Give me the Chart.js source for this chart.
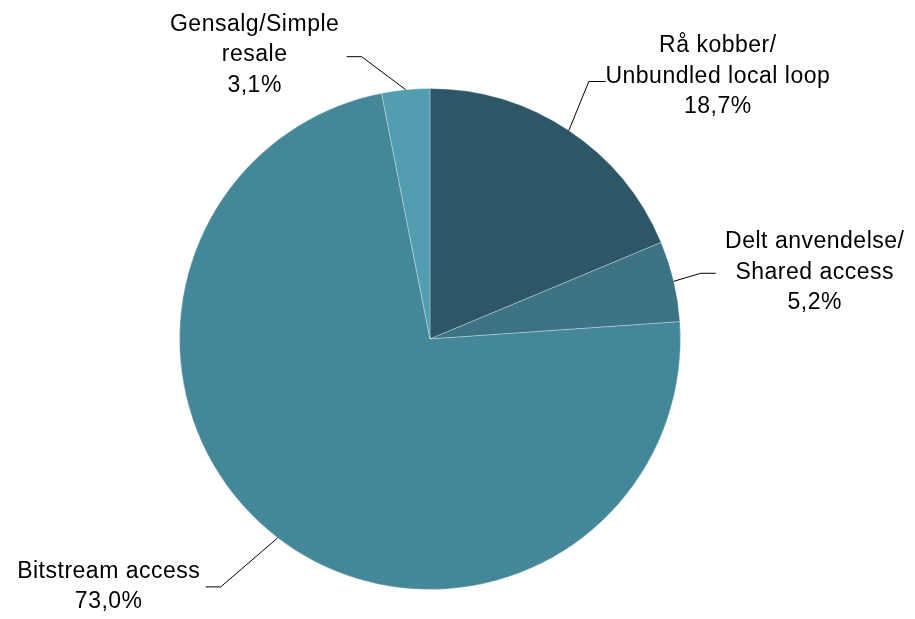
<!DOCTYPE html>
<html>
<head>
<meta charset="utf-8">
<script src="https://cdn.jsdelivr.net/npm/chart.js@4.4.0/dist/chart.umd.min.js"></script>
<style>
    html, body { margin: 0; padding: 0; background: #ffffff; }
    #wrap { width: 915px; height: 619px; position: relative; }
</style>
</head>
<body>
<div id="wrap"><canvas id="pieChart"></canvas></div>
<script>
// Data
const categories = [
    ['Rå kobber/', 'Unbundled local loop'],
    ['Delt anvendelse/', 'Shared access'],
    ['Bitstream access'],
    ['Gensalg/Simple', 'resale']
];
const shares = [18.7, 5.2, 73.0, 3.1];
const sliceColors = ['#2d5766', '#3d7485', '#448799', '#529db0'];

// Placement of leader lines and label blocks (offsets from the arc mid point)
const labelPlacement = [
    { elbow: [20, -49], tail: 17, text: [112, -5] },
    { elbow: [27, -8], tail: 15, text: [99, -1] },
    { elbow: [-57, 49], tail: -15, text: [-97, 0] },
    { elbow: [-44, -33], tail: -15, text: [-92, -2] }
];

const fmt = v => v.toFixed(1).replace('.', ',') + '%';

const leaderLabels = {
    id: 'leaderLabels',
    afterDraw(chart) {
        const ctx = chart.ctx;
        const meta = chart.getDatasetMeta(0);
        ctx.save();
        ctx.font = '23px "Liberation Sans", Arial, sans-serif';
        if ('letterSpacing' in ctx) ctx.letterSpacing = '0.5px';
        ctx.fillStyle = '#000000';
        ctx.strokeStyle = '#000000';
        ctx.lineWidth = 1;
        ctx.textAlign = 'center';
        ctx.textBaseline = 'middle';
        const lineH = 30.5;
        meta.data.forEach((arc, i) => {
            const p = arc.getProps(['x', 'y', 'startAngle', 'endAngle', 'outerRadius'], true);
            const mid = (p.startAngle + p.endAngle) / 2;
            const ax = p.x + Math.cos(mid) * p.outerRadius;
            const ay = p.y + Math.sin(mid) * p.outerRadius;
            const pl = labelPlacement[i];
            const ex = ax + pl.elbow[0];
            const ey = ay + pl.elbow[1];
            const tx = ex + pl.tail;
            ctx.beginPath();
            ctx.moveTo(ax, ay);
            ctx.lineTo(ex, ey);
            ctx.lineTo(tx, ey);
            ctx.stroke();

            const lines = categories[i].concat([fmt(shares[i])]);
            const cx = tx + pl.text[0];
            const cy = ey + pl.text[1];
            const top = cy - (lines.length - 1) * lineH / 2;
            lines.forEach((t, k) => ctx.fillText(t, cx, top + k * lineH));
        });
        ctx.restore();
    }
};

new Chart(document.getElementById('pieChart'), {
    type: 'pie',
    data: {
        labels: categories.map(c => c.join(' ')),
        datasets: [{
            data: shares,
            backgroundColor: sliceColors,
            borderColor: 'rgba(255,255,255,0.3)',
            borderWidth: 1
        }]
    },
    options: {
        responsive: true,
        maintainAspectRatio: false,
        animation: false,
        layout: { padding: { top: 88, bottom: 29, left: 179, right: 234 } },
        plugins: {
            legend: { display: false },
            tooltip: { enabled: false }
        }
    },
    plugins: [leaderLabels]
});
</script>
</body>
</html>
